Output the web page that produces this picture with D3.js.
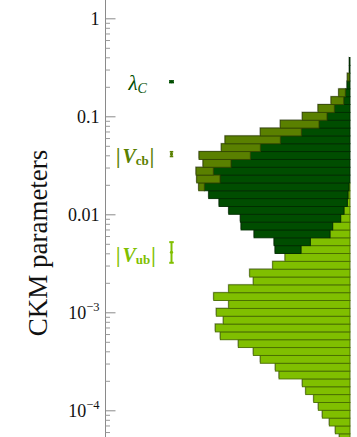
<!DOCTYPE html>
<html>
<head>
<meta charset="utf-8">
<script src="https://cdn.jsdelivr.net/npm/d3@7"></script>
<style>
body { margin: 0; background: #fff; }
svg { display: block; font-family: "Liberation Serif", "DejaVu Serif", serif; }
</style>
</head>
<body>
<div id="canvas"></div>
<script>
// histogram bins: log10 lower edge = -4 + 0.08*k, k = -4 .. 44
const binK = d3.range(-4, 45);
const binWidth = 0.08;

// stacked bar lengths per bin (arbitrary counts), from the right edge outwards
const vubCounts = [10.7, 14.7, 20.7, 27.7, 31.7, 36.3, 44.3, 47.7, 71, 74.7,
  89.7, 96.7, 111.7, 129.7, 134.7, 126.7, 133.7, 121.3, 136.3, 121.3,
  96.7, 100.3, 77.3, 65, 49, 39.7, 20, 17.3, 9.3, 6,
  2.7, 2, 1, 0, 0, 0, 0, 0, 0, 0,
  0, 0, 0, 0, 0, 0, 0, 0, 0];
const lambdaCounts = [0, 0, 0, 0, 0, 0, 0, 0, 0, 0,
  0, 0, 0, 0, 0, 0, 0, 0, 0, 0,
  0, 0, 0, 0, 26, 36.3, 76, 91.7, 100.4, 115.3,
  128.3, 139.3, 144.7, 130, 136.7, 119, 99.7, 89.7, 69.7, 48.7,
  31, 23, 15.7, 6.3, 4.7, 3, 0.7, 0.7, 0.7];
const vcbCounts = [0, 0, 0, 0, 0, 0, 0, 0, 0, 0,
  0, 0, 0, 0, 0, 0, 0, 0, 0, 0,
  0, 0, 0, 0, 0, 0, 0, 0, 0, 0,
  0, 0, 5.6, 23.3, 17.3, 28, 51.3, 39, 55.3, 41,
  38.7, 24.7, 16.3, 12.7, 6.6, 0, 2, 0, 0];

// measured values (points with error bars)
const params = ["lambda", "vcb", "vub"];
const paramValue = [0.2253, 0.0412, 0.0041];
const paramLow = [0.2210, 0.0389, 0.0032];
const paramHigh = [0.2296, 0.0435, 0.0052];

const majorTicks = [1, 0.1, 0.01, 1e-3, 1e-4];

const colors = { vub: "#80bf00", lambda: "#004d00", vcb: "#5a8000" };

const width = 357, height = 437;
const axisX = 105.5, baseX = 350;

const svg = d3.select("#canvas").append("svg")
  .attr("width", width).attr("height", height);

const y = d3.scaleLog().domain([1e-4, 1]).range([410.3, 18.3]);
const x = d3.scaleLinear().domain([0, 250]).range([baseX, baseX - 250]);

// histogram
const table = binK.map((k, i) => ({
  lo: -4 + binWidth * k,
  vub: vubCounts[i], lambda: lambdaCounts[i], vcb: vcbCounts[i]
}));
const keys = ["vub", "lambda", "vcb"];
const stacked = d3.stack().keys(keys)(table);

const hist = svg.append("g");
const segs = stacked.flatMap(s => s.map(d => ({ key: s.key, a: d[0], b: d[1], lo: d.data.lo })))
  .filter(d => d.b - d.a > 0);

const rectOf = d => ({
  x: x(d.b), w: x(d.a) - x(d.b),
  y: y(Math.pow(10, d.lo + binWidth)), h: y(Math.pow(10, d.lo)) - y(Math.pow(10, d.lo + binWidth))
});

hist.selectAll("rect.shadow").data(segs).enter().append("rect")
  .attr("class", "shadow")
  .attr("x", d => rectOf(d).x - 1)
  .attr("y", d => rectOf(d).y - 1)
  .attr("width", d => rectOf(d).w)
  .attr("height", d => rectOf(d).h)
  .attr("fill", "#c4c4c4");

hist.selectAll("rect.bar").data(segs).enter().append("rect")
  .attr("class", "bar")
  .attr("x", d => rectOf(d).x)
  .attr("y", d => rectOf(d).y)
  .attr("width", d => rectOf(d).w)
  .attr("height", d => rectOf(d).h)
  .attr("fill", d => colors[d.key])
  .attr("stroke", d => d3.color(colors[d.key]).darker(1.6))
  .attr("stroke-width", 0.9);

// axis
svg.append("line")
  .attr("x1", axisX).attr("x2", axisX)
  .attr("y1", 0).attr("y2", height)
  .attr("stroke", "#8a8a8a").attr("stroke-width", 1);

const minorTicks = [];
for (let e = -5; e <= 0; e++) {
  for (let m = 2; m <= 9; m++) minorTicks.push(m * Math.pow(10, e));
}

const gMinor = svg.append("g")
  .attr("transform", `translate(${axisX},0)`)
  .call(d3.axisLeft(y).tickValues(minorTicks).tickSize(-4.5).tickFormat(""));
gMinor.select(".domain").remove();
gMinor.selectAll("line").attr("stroke", "#9a9a9a");

const gMajor = svg.append("g")
  .attr("transform", `translate(${axisX},0)`)
  .call(d3.axisLeft(y).tickValues(majorTicks).tickSize(-10).tickPadding(6)
    .tickFormat(d => d >= 0.01 ? String(d) : ""));
gMajor.select(".domain").remove();
gMajor.selectAll("line").attr("stroke", "#8a8a8a");
gMajor.selectAll("text")
  .attr("font-family", "Liberation Serif")
  .attr("font-size", 18)
  .attr("fill", "#111")
  .attr("dy", "0.33em")
  .each(function(d) {
    if (d < 0.01) {
      const t = d3.select(this);
      const e = Math.round(Math.log10(d));
      t.append("tspan").text("10");
      t.append("tspan").attr("font-size", 12.5).attr("dy", -8).text("\u2212" + Math.abs(e));
    }
  });

// y title
svg.append("text")
  .attr("transform", "translate(46.5,243) rotate(-90)")
  .attr("text-anchor", "middle")
  .attr("font-size", 27)
  .attr("fill", "#111")
  .text("CKM parameters");

// labels
const lab1 = svg.append("text").attr("x", 128.5).attr("y", 89.5)
  .attr("fill", colors.lambda).attr("font-size", 21);
lab1.append("tspan").attr("font-style", "italic").text("\u03bb");
lab1.append("tspan").attr("font-style", "italic").attr("font-size", 14).attr("dy", 3).text("C");

function vLabel(yb, sub, col) {
  const t = svg.append("text").attr("x", 116).attr("y", yb)
    .attr("fill", col).attr("font-size", 20).attr("font-weight", "bold");
  t.append("tspan").text("|");
  t.append("tspan").attr("font-style", "italic").attr("dx", 2).text("V");
  t.append("tspan").attr("font-size", 13).attr("dy", 2).text(sub);
  t.append("tspan").attr("dy", -2).attr("dx", 1).text("|");
}
vLabel(162.5, "cb", colors.vcb);
vLabel(261.5, "ub", colors.vub);

// measured points with error bars
const markX = 171.5;
const capW = [5, 3.5, 4.5];
const lw = [1.6, 1.6, 2];
const pts = svg.append("g");
params.forEach((p, i) => {
  const g = pts.append("g").attr("stroke", colors[p]).attr("stroke-width", lw[i]);
  g.append("line").attr("x1", markX).attr("x2", markX)
    .attr("y1", y(paramLow[i])).attr("y2", y(paramHigh[i]));
  [paramLow[i], paramHigh[i]].forEach(v => {
    g.append("line").attr("x1", markX - capW[i] / 2).attr("x2", markX + capW[i] / 2)
      .attr("y1", y(v)).attr("y2", y(v));
  });
  pts.append("circle").attr("cx", markX).attr("cy", y(paramValue[i]))
    .attr("r", 1.6).attr("fill", colors[p]);
});
</script>
</body>
</html>
